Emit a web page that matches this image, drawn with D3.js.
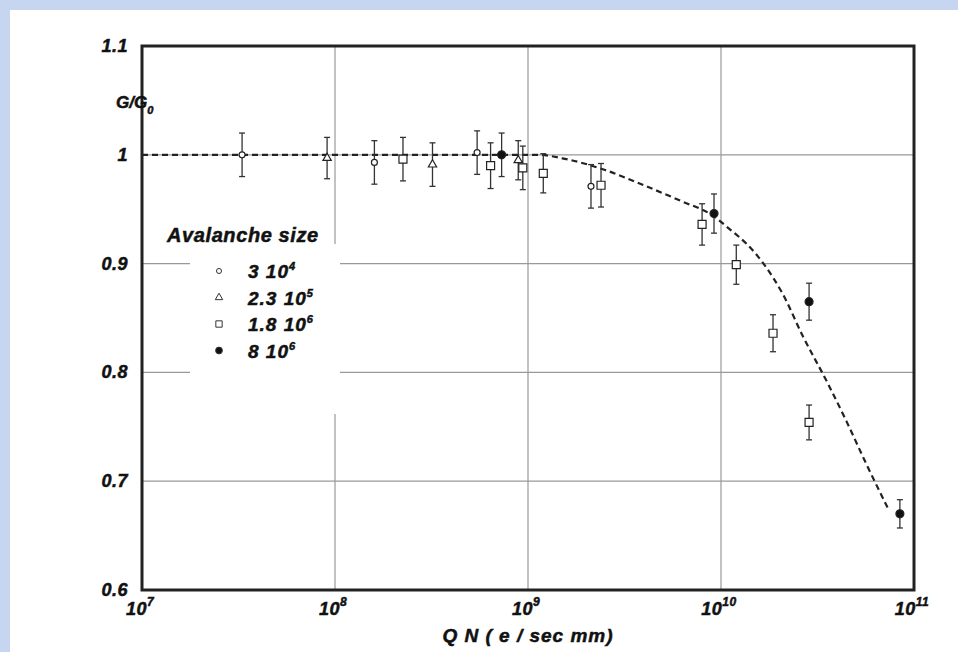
<!DOCTYPE html>
<html>
<head>
<meta charset="utf-8">
<script src="https://cdn.jsdelivr.net/npm/d3@7"></script>
<style>
  body { margin: 0; background: #c8daf0; }
  svg text { font-family: "Liberation Sans", Arial, sans-serif; font-weight: bold; font-style: italic;
             fill: #111; stroke: #111; stroke-width: 0.5px; }
</style>
</head>
<body>
<div class="module"></div>
<script>
const circles   = [[3.3e7, 1.000, 0.020], [1.6e8, 0.993, 0.020], [5.45e8, 1.002, 0.020], [2.12e9, 0.971, 0.020]];
const triangles = [[9.1e7, 0.997, 0.019], [3.2e8, 0.991, 0.020], [8.9e8, 0.995, 0.018]];
const squares   = [[2.25e8, 0.996, 0.020], [6.4e8, 0.990, 0.021], [9.4e8, 0.988, 0.020], [1.2e9, 0.983, 0.018],
                   [2.39e9, 0.972, 0.020], [7.98e9, 0.936, 0.019], [1.2e10, 0.899, 0.018], [1.86e10, 0.836, 0.017],
                   [2.86e10, 0.754, 0.016]];
const dots      = [[7.3e8, 1.000, 0.020], [9.2e9, 0.946, 0.018], [2.86e10, 0.865, 0.017], [8.45e10, 0.670, 0.013]];

// dashed fit curve
const curve = [[1e7, 1.0], [1.12e9, 1.0], [1.58e9, 0.996], [2.51e9, 0.986], [3.98e9, 0.972], [6.31e9, 0.957],
               [8.91e9, 0.945], [1.12e10, 0.931], [1.36e10, 0.918], [1.66e10, 0.900], [2.09e10, 0.872],
               [2.66e10, 0.833], [3.55e10, 0.791], [4.47e10, 0.755], [5.62e10, 0.717], [7.33e10, 0.675]];

const xTicks = [1e7, 1e8, 1e9, 1e10, 1e11];
const yTicks = [0.6, 0.7, 0.8, 0.9, 1, 1.1];
const legendLabels = [["3 10", "4"], ["2.3 10", "5"], ["1.8 10", "6"], ["8 10", "6"]];

drawChart(d3.select('.module').node());

function drawChart(rootDOM) {
	const W = 958, H = 652;
	const L = 142, R = 914, T = 46, B = 590;

	const svg = d3.select(rootDOM).append('svg')
		.attr('width', W).attr('height', H);

	// background panel
	svg.append('rect').attr('width', W).attr('height', H).attr('fill', '#c7d6f0');
	svg.append('rect').attr('x', 10).attr('y', 10).attr('width', W - 10).attr('height', H - 10).attr('fill', '#fff');

	const x = d3.scaleLog().domain([1e7, 1e11]).range([L, R]);
	const y = d3.scaleLinear().domain([0.6, 1.1]).range([B, T]);

	// grid
	svg.append('g').selectAll('line').data(xTicks.slice(1, -1)).join('line')
		.attr('x1', d => x(d)).attr('x2', d => x(d)).attr('y1', T).attr('y2', B)
		.attr('stroke', '#999').attr('stroke-width', 1.2);
	svg.append('g').selectAll('line').data(yTicks.slice(1, -1)).join('line')
		.attr('x1', L).attr('x2', R).attr('y1', d => y(d)).attr('y2', d => y(d))
		.attr('stroke', '#999').attr('stroke-width', 1.2);

	// legend background hides grid
	svg.append('rect').attr('x', 190).attr('y', 244).attr('width', 150).attr('height', 170).attr('fill', '#fff');

	// frame
	svg.append('rect').attr('x', L).attr('y', T).attr('width', R - L).attr('height', B - T)
		.attr('fill', 'none').attr('stroke', '#222').attr('stroke-width', 3);

	// y tick labels
	svg.append('g').selectAll('text').data(yTicks).join('text')
		.attr('x', 128).attr('y', d => y(d) + 6)
		.attr('text-anchor', 'end').attr('font-size', 18).attr('letter-spacing', 0.5)
		.text(d => d === 1 ? '1' : d3.format('.1f')(d));

	// x tick labels
	const xl = svg.append('g').selectAll('text').data(xTicks).join('text')
		.attr('x', d => x(d) - 2).attr('y', 615)
		.attr('text-anchor', 'middle').attr('font-size', 18).attr('letter-spacing', 0.5);
	xl.append('tspan').text('10');
	xl.append('tspan').attr('dy', -9).attr('font-size', 12).text(d => Math.round(Math.log10(d)));

	svg.append('text').attr('x', 528).attr('y', 642).attr('text-anchor', 'middle')
		.attr('font-size', 19).attr('letter-spacing', 1).text('Q N ( e / sec mm)');

	const yl = svg.append('text').attr('x', 116).attr('y', 108).attr('font-size', 17);
	yl.append('tspan').text('G/G');
	yl.append('tspan').attr('dy', 6).attr('font-size', 11).text('0');

	// fit curve
	svg.append('path').datum(curve)
		.attr('d', d3.line().x(d => x(d[0])).y(d => y(d[1])).curve(d3.curveMonotoneX))
		.attr('fill', 'none').attr('stroke', '#222').attr('stroke-width', 2.2)
		.attr('stroke-dasharray', '6,4');

	// error bars
	const all = circles.concat(triangles, squares, dots);
	const eb = svg.append('g').attr('stroke', '#333').attr('stroke-width', 1.3);
	eb.selectAll('.bar').data(all).join('line').attr('class', 'bar')
		.attr('x1', d => x(d[0])).attr('x2', d => x(d[0]))
		.attr('y1', d => y(d[1] + d[2])).attr('y2', d => y(d[1] - d[2]));
	[1, -1].forEach(s => {
		eb.selectAll('.cap' + s).data(all).join('line').attr('class', 'cap' + s)
			.attr('x1', d => x(d[0]) - 3).attr('x2', d => x(d[0]) + 3)
			.attr('y1', d => y(d[1] + s * d[2])).attr('y2', d => y(d[1] + s * d[2]));
	});

	// markers
	const sym = {
		circle: d3.symbol().type(d3.symbolCircle).size(28),
		triangle: d3.symbol().type(d3.symbolTriangle).size(30),
		square: d3.symbol().type(d3.symbolSquare).size(64),
		dot: d3.symbol().type(d3.symbolCircle).size(50)
	};
	function drawMarks(data, kind) {
		svg.append('g').selectAll('path').data(data).join('path')
			.attr('transform', d => `translate(${x(d[0])},${y(d[1])})`)
			.attr('d', sym[kind])
			.attr('fill', kind === 'dot' ? '#111' : '#fff')
			.attr('stroke', '#222').attr('stroke-width', 1.2);
	}
	drawMarks(circles, 'circle');
	drawMarks(triangles, 'triangle');
	drawMarks(squares, 'square');
	drawMarks(dots, 'dot');

	// legend
	svg.append('text').attr('x', 167).attr('y', 242).attr('font-size', 20).attr('letter-spacing', 0.6)
		.text('Avalanche size');
	const lg = svg.append('g').selectAll('g').data(legendLabels).join('g')
		.attr('transform', (d, i) => `translate(219, ${271 + i * 26.5})`);
	lg.append('path')
		.attr('d', (d, i) => d3.symbol().type(i === 1 ? d3.symbolTriangle : i === 2 ? d3.symbolSquare : d3.symbolCircle)
			.size([20, 24, 40, 36][i])())
		.attr('fill', (d, i) => i === 3 ? '#111' : '#fff')
		.attr('stroke', '#333').attr('stroke-width', 1);
	const lt = lg.append('text').attr('x', 29).attr('y', 7).attr('font-size', 19).attr('letter-spacing', 1);
	lt.append('tspan').text(d => d[0]);
	lt.append('tspan').attr('dy', -8).attr('font-size', 11).text(d => d[1]);
}
</script>
</body>
</html>
